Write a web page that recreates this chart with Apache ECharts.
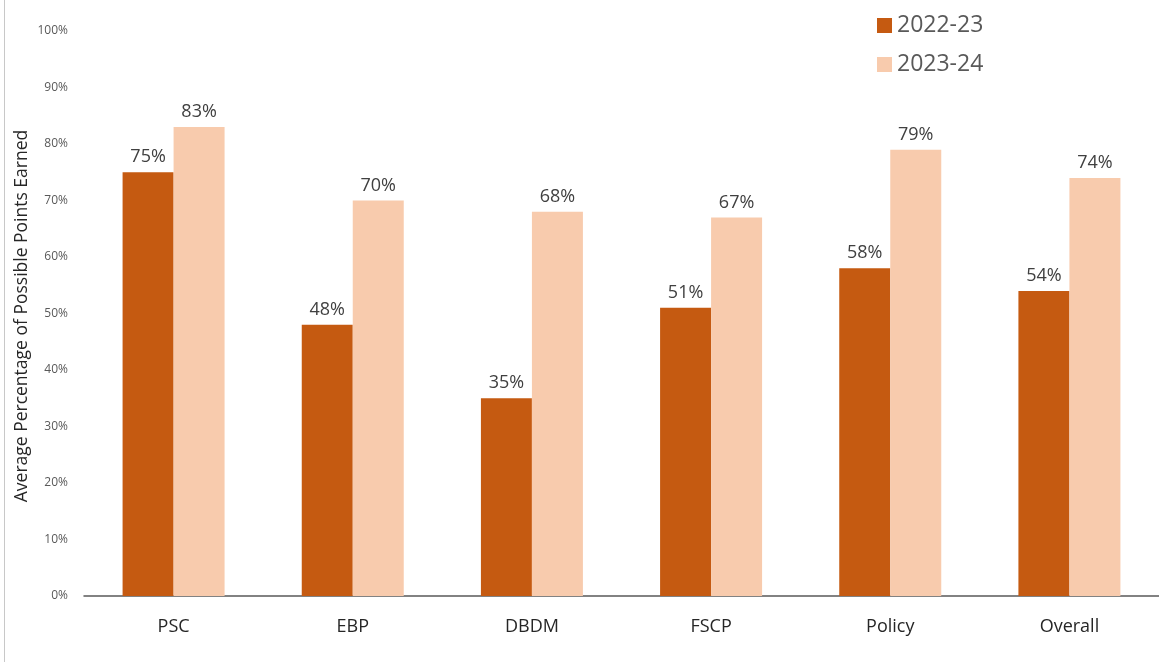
<!DOCTYPE html>
<html><head><meta charset="utf-8">
<script src="https://cdn.jsdelivr.net/npm/echarts@6/dist/echarts.min.js"></script>
<style>html,body{margin:0;padding:0;background:#fff}#c{width:1159px;height:662px}</style>
</head><body><div id="c"></div>
<script>
const categories = ['PSC','EBP','DBDM','FSCP','Policy','Overall'];
const series2223 = [75,48,35,51,58,54];
const series2324 = [83,70,68,67,79,74];
const seriesNames = ['2022-23','2023-24'];
const yAxisTitle = 'Average Percentage of Possible Points Earned';

const chart = echarts.init(document.getElementById('c'));
const font = '"Open Sans", sans-serif';
const lbl = {show:true, position:'top', formatter:p=>p.value+'%', color:'#404040', fontSize:18, fontFamily:font, distance:6};
chart.setOption({
  animation:false,
  textStyle:{fontFamily:font},
  legend:{orient:'vertical', left:872, top:9, icon:'rect', itemWidth:15, itemHeight:15, itemGap:16,
    textStyle:{fontSize:23, color:'#595959', fontFamily:font}, data:seriesNames},
  grid:{left:84, top:31, width:1078, height:565, containLabel:false},
  xAxis:{type:'category', data:categories,
    axisLine:{lineStyle:{color:'#595959', width:1.5}}, axisTick:{show:false},
    axisLabel:{fontSize:18, color:'#262626', margin:22, fontFamily:font}},
  yAxis:{type:'value', min:0, max:100, interval:10,
    axisLine:{show:false}, axisTick:{show:false}, splitLine:{show:false},
    axisLabel:{fontSize:12, color:'#595959', margin:16, formatter:v=>v+'%', fontFamily:font}},
  graphic:[
    {type:'rect', shape:{x:4, y:0, width:1, height:662}, style:{fill:'#c8c8c8'}, silent:true},
    {type:'text', x:22, y:316, rotation:Math.PI/2, silent:true,
      style:{text:yAxisTitle, fontSize:17.5, fill:'#262626', fontFamily:font, align:'center', verticalAlign:'middle'}}
  ],
  series:[
    {name:seriesNames[0], type:'bar', data:series2223, barWidth:51, barGap:'0%', itemStyle:{color:'#C55A11'}, label:lbl},
    {name:seriesNames[1], type:'bar', data:series2324, barWidth:51, itemStyle:{color:'#F8CBAD'}, label:lbl}
  ]
});
</script></body></html>
